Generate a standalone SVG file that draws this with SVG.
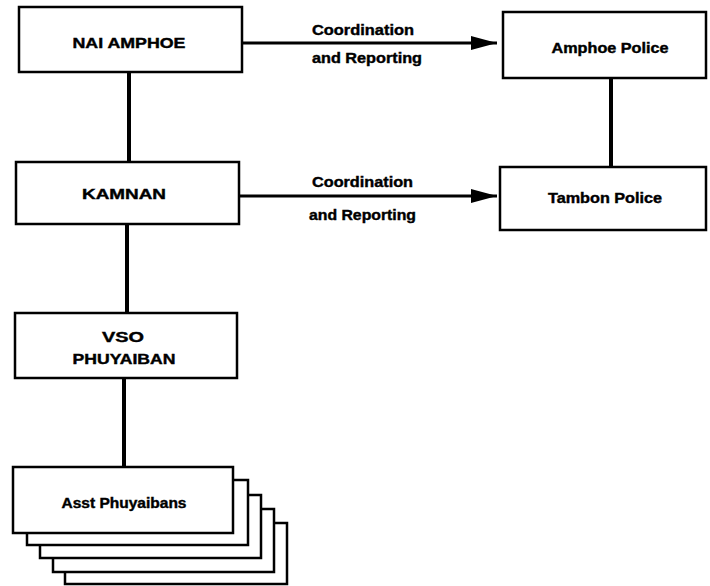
<svg xmlns="http://www.w3.org/2000/svg" width="710" height="586" viewBox="0 0 710 586">
<style>
.box{fill:#fff;stroke:#000;stroke-width:2.5}
.t{font-family:"Liberation Sans",Arial,sans-serif;font-weight:bold;font-size:14px;fill:#000;stroke:#000;stroke-width:0.4}
.c{text-anchor:middle}
.link{stroke:#000;stroke-width:4;fill:none}
.arr{stroke:#000;stroke-width:3;fill:none}
</style>
<defs>
<marker id="ah" markerWidth="27" markerHeight="15" refX="26" refY="7.5" orient="auto" markerUnits="userSpaceOnUse">
<path d="M0,0.5 L26,7.5 L0,14.5 Z" fill="#000"/>
</marker>
</defs>
<rect width="710" height="586" fill="#fff"/>
<g id="connectors">
<line class="link" x1="129" y1="72" x2="129" y2="162"/>
<line class="link" x1="127" y1="224" x2="127" y2="313"/>
<line class="link" x1="124" y1="378" x2="124" y2="467"/>
<line class="link" x1="611" y1="78" x2="611" y2="167"/>
<line class="arr" x1="242" y1="43" x2="497" y2="43" marker-end="url(#ah)"/>
<line class="arr" x1="240" y1="196" x2="497" y2="196" marker-end="url(#ah)"/>
<text class="t" x="312" y="35" textLength="102" lengthAdjust="spacingAndGlyphs">Coordination</text>
<text class="t" x="312" y="63" textLength="110" lengthAdjust="spacingAndGlyphs">and Reporting</text>
<text class="t" x="312" y="187" textLength="101" lengthAdjust="spacingAndGlyphs">Coordination</text>
<text class="t" x="309" y="220" textLength="107" lengthAdjust="spacingAndGlyphs">and Reporting</text>
</g>
<g id="nai-amphoe">
<rect class="box" x="19" y="7" width="223" height="65"/>
<text class="t c" x="129" y="48" textLength="113" lengthAdjust="spacingAndGlyphs">NAI AMPHOE</text>
</g>
<g id="kamnan">
<rect class="box" x="16" y="162" width="223" height="62"/>
<text class="t c" x="124" y="199" textLength="84" lengthAdjust="spacingAndGlyphs">KAMNAN</text>
</g>
<g id="vso-phuyaiban">
<rect class="box" x="15" y="313" width="222" height="65"/>
<text class="t c" x="123" y="342" textLength="42" lengthAdjust="spacingAndGlyphs">VSO</text>
<text class="t c" x="124" y="364" textLength="103" lengthAdjust="spacingAndGlyphs">PHUYAIBAN</text>
</g>
<g id="amphoe-police">
<rect class="box" x="503" y="12" width="203" height="66"/>
<text class="t c" x="610" y="53" textLength="117" lengthAdjust="spacingAndGlyphs">Amphoe Police</text>
</g>
<g id="tambon-police">
<rect class="box" x="500" y="167" width="206" height="63"/>
<text class="t c" x="605" y="203" textLength="114" lengthAdjust="spacingAndGlyphs">Tambon Police</text>
</g>
<g id="asst-phuyaibans">
<rect class="box" x="65" y="523" width="222" height="61"/>
<rect class="box" x="53" y="509" width="221" height="63"/>
<rect class="box" x="40" y="495" width="221" height="63"/>
<rect class="box" x="27" y="480" width="221" height="65"/>
<rect class="box" x="13" y="467" width="220" height="66"/>
<text class="t c" x="124" y="508" textLength="125" lengthAdjust="spacingAndGlyphs">Asst Phuyaibans</text>
</g>
</svg>
